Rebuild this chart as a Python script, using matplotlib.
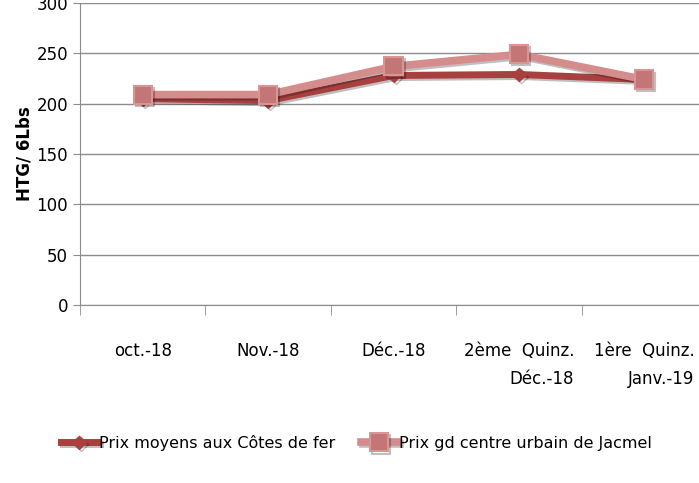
import matplotlib
matplotlib.use('Agg')
import matplotlib.pyplot as plt
import matplotlib.patheffects as pe

# donnees
mois = ['oct.-18', 'Nov.-18', 'Déc.-18', '2ème  Quinz.\nDéc.-18', '1ère  Quinz.\nJanv.-19']
prix_cotes_de_fer = [205, 203, 228, 229, 224]
prix_jacmel = [209, 209, 237, 249, 224]

plt.rcParams['font.family'] = ['Liberation Sans Narrow', 'DejaVu Sans']

fig = plt.figure(figsize=(6.99, 4.83), dpi=100)
ax = fig.add_axes([80 / 699, 1 - 305 / 483, 627 / 699, 302 / 483])

x = list(range(len(mois)))
shadow = [pe.SimpleLineShadow(offset=(1.5, -1.5), alpha=0.25), pe.Normal()]

ax.plot(x, prix_cotes_de_fer, color='#A8403F', lw=5, marker='D', ms=7,
        mfc='#A8403F', mec='#A8403F', label='Prix moyens aux Côtes de fer',
        path_effects=shadow, zorder=3)
ax.plot(x, prix_jacmel, color='#D48C8C', lw=5.5, marker='s', ms=13,
        mfc='#C47676', mec='#D99595', mew=1.5, label='Prix gd centre urbain de Jacmel',
        path_effects=shadow, zorder=4)

ax.set_xlim(-0.5, len(mois) - 0.5)
ax.set_ylim(0, 300)
ax.set_yticks(range(0, 301, 50))
ax.yaxis.grid(True, color='#8C8C8C', lw=1)
ax.set_axisbelow(True)

ax.set_xticks(x)
ax.set_xticklabels(mois, fontsize=12, linespacing=1.7)
ax.tick_params(axis='x', length=0, pad=27)
ax.set_xticks([i - 0.5 for i in range(len(mois) + 1)], minor=True)
ax.tick_params(axis='x', which='minor', length=7, color='#8C8C8C')
ax.tick_params(axis='y', labelsize=12, length=5, color='#8C8C8C')
for lbl in ax.get_xticklabels():
    lbl.set_horizontalalignment('center')
    lbl.set_multialignment('right')

for s in ['top', 'right']:
    ax.spines[s].set_visible(False)
for s in ['left', 'bottom']:
    ax.spines[s].set_color('#8C8C8C')

ax.set_ylabel('HTG/ 6Lbs', fontsize=12, fontweight='bold', family='DejaVu Sans', labelpad=2)

fig.legend(loc='center', bbox_to_anchor=(0.51, 1 - 443 / 483), ncol=2, frameon=False,
           fontsize=11.5, handlelength=2.3, handletextpad=0.1, columnspacing=1.6)

fig.savefig('out.png', dpi=100)
